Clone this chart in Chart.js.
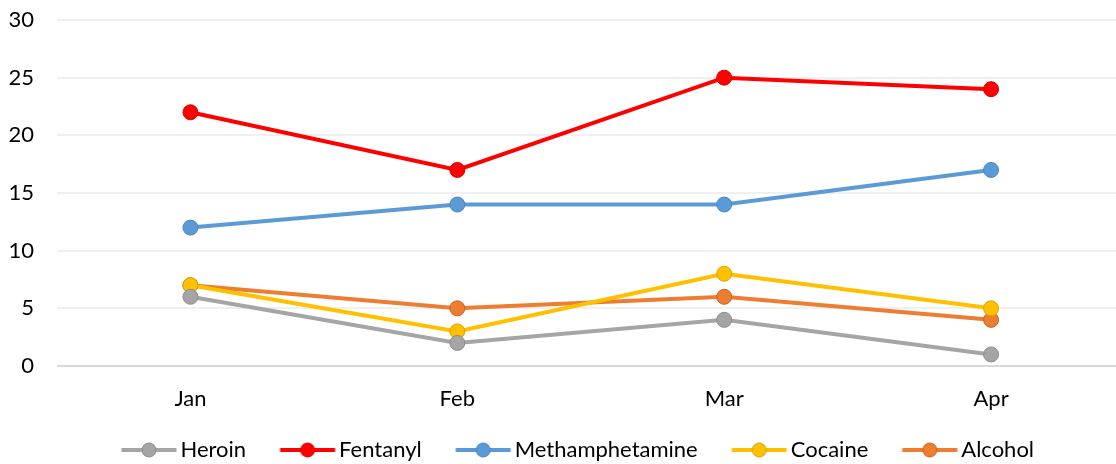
<!DOCTYPE html>
<html>
<head>
<meta charset="utf-8">
<script src="https://cdn.jsdelivr.net/npm/chart.js@4.4.1/dist/chart.umd.min.js"></script>
<style>
  html, body { margin: 0; padding: 0; overflow: hidden; background: #fff; }
  #wrap { width: 1140px; height: 471px; position: relative; }
</style>
</head>
<body>
<div id="wrap"><canvas id="c"></canvas></div>
<script>
const categories = ['Jan', 'Feb', 'Mar', 'Apr'];
const seriesNames = ['Heroin', 'Fentanyl', 'Methamphetamine', 'Cocaine', 'Alcohol'];
const heroin = [6, 2, 4, 1];
const fentanyl = [22, 17, 25, 24];
const methamphetamine = [12, 14, 14, 17];
const cocaine = [7, 3, 8, 5];
const alcohol = [7, 5, 6, 4];
const yTicks = [0, 5, 10, 15, 20, 25, 30];

const colors = ['#A5A5A5', '#FF0000', '#5B9BD5', '#FFC000', '#ED7D31'];
const borders = ['#8C8C8C', '#D90000', '#4A86C5', '#D9A300', '#C9651F'];
const values = [heroin, fentanyl, methamphetamine, cocaine, alcohol];

const FS = 22;
const LEG_PAD = 3;
const LEG_W = 81.5 - LEG_PAD - (FS / 2 - 11.5); // pointStyleWidth

function legendIcon(i) {
  const W = 110;
  const cv = document.createElement('canvas');
  cv.width = W; cv.height = 18;
  const g = cv.getContext('2d');
  const imgLeft = LEG_W / 2 - W / 2;
  const lineEnd = LEG_W + FS / 2 - 4 - imgLeft;
  const lineStart = lineEnd - 55;
  g.strokeStyle = colors[i]; g.lineWidth = 4;
  g.beginPath(); g.moveTo(lineStart, 9); g.lineTo(lineEnd, 9); g.stroke();
  g.beginPath(); g.arc((lineStart + lineEnd) / 2, 9, 7, 0, Math.PI * 2);
  g.fillStyle = colors[i]; g.fill();
  g.lineWidth = 1; g.strokeStyle = borders[i]; g.stroke();
  return cv;
}
const icons = seriesNames.map((_, i) => legendIcon(i));

const datasets = seriesNames.map((n, i) => ({
  label: n,
  data: values[i],
  borderColor: colors[i],
  backgroundColor: colors[i],
  pointBackgroundColor: colors[i],
  pointBorderColor: borders[i],
  pointBorderWidth: 1,
  pointRadius: 7.5,
  borderWidth: 4,
  tension: 0,
  fill: false
}));

const chart = new Chart(document.getElementById('c'), {
  type: 'line',
  data: { labels: categories, datasets: datasets },
  options: {
    responsive: true,
    maintainAspectRatio: false,
    animation: false,
    layout: { padding: { left: 0, right: 15.5, top: 20, bottom: 0 } },
    plugins: {
      tooltip: { enabled: false },
      legend: {
        position: 'bottom',
        labels: {
          font: { family: 'Lato', size: FS },
          color: '#000',
          usePointStyle: true,
          pointStyleWidth: LEG_W,
          padding: LEG_PAD,
          generateLabels: (ch) => seriesNames.map((n, i) => ({
            text: n,
            pointStyle: icons[i],
            datasetIndex: i,
            fillStyle: colors[i],
            strokeStyle: colors[i],
            lineWidth: 0,
            hidden: false,
            fontColor: '#000'
          }))
        }
      }
    },
    scales: {
      x: {
        offset: true,
        grid: { display: false, drawTicks: false },
        border: { display: false },
        ticks: { font: { family: 'Lato', size: FS }, color: '#000', padding: 20 },
        afterFit: (s) => { s.height = 70; s.paddingLeft = 0; s.paddingRight = 0; }
      },
      y: {
        min: 0, max: 30,
        afterBuildTicks: (ax) => { ax.ticks = yTicks.map(v => ({ value: v })); },
        grid: {
          drawTicks: false,
          color: (ctx) => ctx.tick && ctx.tick.value === 0 ? '#D9D9D9' : '#F0F0F0',
          lineWidth: 2
        },
        border: { display: false },
        ticks: { font: { family: 'Lato', size: FS }, color: '#000', padding: 23 },
        afterFit: (s) => { s.width = 57; s.paddingTop = 0; s.paddingBottom = 0; }
      }
    }
  }
});
</script>
</body>
</html>
